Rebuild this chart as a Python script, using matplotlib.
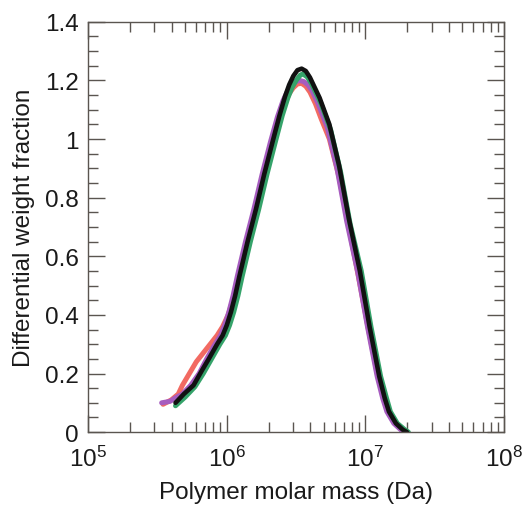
import numpy as np
import matplotlib.pyplot as plt
from matplotlib.ticker import MultipleLocator, LogLocator, NullFormatter

plt.rcParams['font.family'] = ['Liberation Sans', 'DejaVu Sans']
plt.rcParams['mathtext.fontset'] = 'custom'
plt.rcParams['mathtext.rm'] = 'Liberation Sans'
plt.rcParams['mathtext.default'] = 'regular'

# log10 of molar mass, differential weight fraction
black_logm = [5.63, 5.69, 5.76, 5.82, 5.87, 5.93, 5.97, 6.00, 6.03, 6.06, 6.09, 6.15, 6.21, 6.27,
              6.33, 6.38, 6.42, 6.45, 6.48, 6.51, 6.54, 6.57, 6.60, 6.63, 6.67, 6.74, 6.81, 6.88,
              6.96, 7.03, 7.10, 7.14, 7.17, 7.22, 7.27, 7.30]
black_w = [0.10, 0.13, 0.16, 0.21, 0.25, 0.30, 0.33, 0.365, 0.41, 0.465, 0.53, 0.65, 0.76, 0.88,
           0.99, 1.08, 1.145, 1.185, 1.215, 1.235, 1.24, 1.232, 1.21, 1.18, 1.14, 1.05, 0.91, 0.73,
           0.55, 0.36, 0.19, 0.115, 0.07, 0.03, 0.008, 0.0]

green_logm = [5.63, 5.70, 5.77, 5.83, 5.89, 5.95, 5.99, 6.02, 6.05, 6.08, 6.11, 6.17, 6.23, 6.29,
              6.35, 6.40, 6.44, 6.47, 6.50, 6.53, 6.55, 6.58, 6.61, 6.64, 6.68, 6.75, 6.82, 6.89,
              6.97, 7.04, 7.11, 7.15, 7.18, 7.23, 7.28, 7.31]
green_w = [0.09, 0.12, 0.155, 0.20, 0.25, 0.30, 0.33, 0.365, 0.41, 0.465, 0.53, 0.65, 0.76, 0.88,
           0.99, 1.08, 1.14, 1.175, 1.20, 1.218, 1.222, 1.212, 1.19, 1.16, 1.12, 1.03, 0.89, 0.71,
           0.55, 0.36, 0.19, 0.12, 0.07, 0.03, 0.01, 0.0]

red_logm = [5.54, 5.60, 5.65, 5.68, 5.73, 5.78, 5.83, 5.88, 5.93, 5.97, 6.01, 6.05, 6.09, 6.14,
            6.20, 6.26, 6.32, 6.37, 6.41, 6.45, 6.48, 6.51, 6.54, 6.57, 6.60, 6.64, 6.68, 6.74,
            6.81, 6.88, 6.95, 7.02, 7.09, 7.16, 7.22, 7.29]
red_w = [0.095, 0.11, 0.13, 0.16, 0.20, 0.24, 0.27, 0.30, 0.33, 0.36, 0.40, 0.46, 0.52, 0.63,
         0.74, 0.86, 0.97, 1.05, 1.11, 1.155, 1.175, 1.188, 1.19, 1.18, 1.16, 1.12, 1.07, 1.00,
         0.87, 0.70, 0.53, 0.355, 0.19, 0.075, 0.03, 0.0]

purple_logm = [5.53, 5.59, 5.64, 5.68, 5.74, 5.80, 5.855, 5.915, 5.955, 5.985, 6.015, 6.045, 6.075,
               6.135, 6.195, 6.255, 6.315, 6.365, 6.405, 6.435, 6.465, 6.495, 6.525, 6.555, 6.585,
               6.615, 6.655, 6.725, 6.795, 6.865, 6.945, 7.015, 7.085, 7.125, 7.155, 7.205, 7.26,
               7.295]
purple_w = [0.10, 0.105, 0.12, 0.13, 0.16, 0.20, 0.25, 0.30, 0.33, 0.365, 0.41, 0.465, 0.53, 0.65,
            0.76, 0.88, 0.99, 1.075, 1.13, 1.16, 1.182, 1.195, 1.20, 1.196, 1.185, 1.165, 1.125,
            1.04, 0.90, 0.72, 0.545, 0.36, 0.19, 0.115, 0.07, 0.03, 0.006, 0.0]

series = [
    (red_logm, red_w, '#f26a62', 3.6),
    (purple_logm, purple_w, '#a65cbf', 3.6),
    (green_logm, green_w, '#35a36a', 3.6),
    (black_logm, black_w, '#111111', 3.3),
]

fig = plt.figure(figsize=(5.25, 5.06), dpi=100)
ax = fig.add_axes([0.168, 0.144, 0.792, 0.811])

for logm, w, c, lw in series:
    ax.plot(10 ** np.array(logm), w, color=c, lw=lw, solid_capstyle='round')

ax.set_xscale('log')
ax.set_xlim(1e5, 1e8)
ax.set_ylim(0, 1.4)
ax.xaxis.set_major_locator(LogLocator(base=10, numticks=10))
ax.xaxis.set_minor_locator(LogLocator(base=10, subs=np.arange(2, 10), numticks=20))
ax.xaxis.set_minor_formatter(NullFormatter())
ax.yaxis.set_minor_locator(MultipleLocator(0.05))
ax.set_yticks([0, 0.2, 0.4, 0.6, 0.8, 1.0, 1.2, 1.4])
ax.set_yticklabels(['0', '0.2', '0.4', '0.6', '0.8', '1', '1.2', '1.4'])

spine_c = '#5a5550'
for s in ax.spines.values():
    s.set_color(spine_c)
    s.set_linewidth(1.0)
ax.tick_params(which='both', direction='in', top=True, right=True, color=spine_c, width=1.0,
               labelsize=17.5, labelcolor='#1a1a1a')
ax.tick_params(which='major', length=12)
ax.tick_params(which='minor', length=7)
ax.tick_params(axis='x', which='major', pad=10)
ax.tick_params(axis='y', which='major', pad=7)

ax.set_xlabel('Polymer molar mass (Da)', fontsize=17.5, color='#1a1a1a', labelpad=7)
ax.set_ylabel('Differential weight fraction', fontsize=17.5, color='#1a1a1a', labelpad=7)

fig.savefig('out.png', dpi=100)
